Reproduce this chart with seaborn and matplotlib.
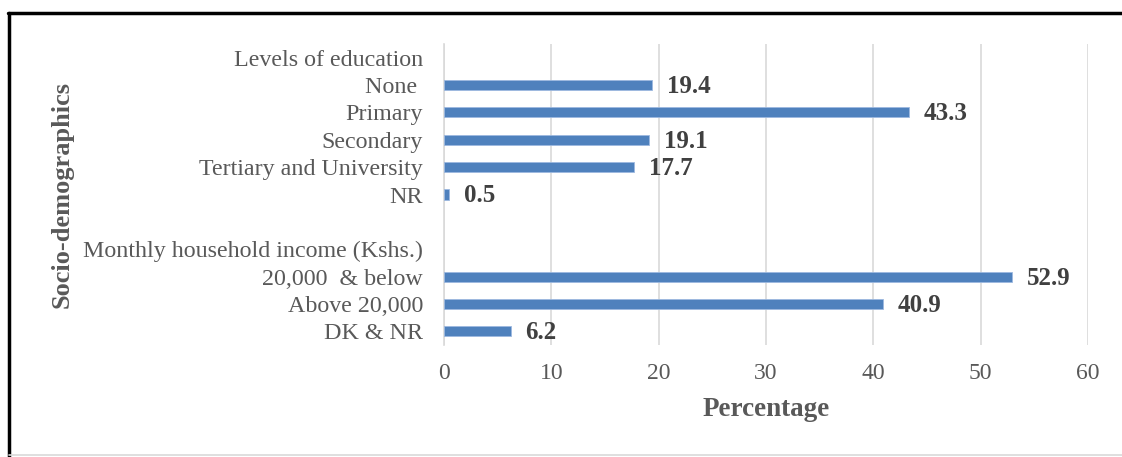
import numpy as np
import pandas as pd
import matplotlib
matplotlib.use("Agg")
import matplotlib.pyplot as plt
from matplotlib.lines import Line2D
import seaborn as sns

# Rows of the chart, top to bottom (header and spacer rows carry no value)
categories = [
    "Levels of education",
    "None ",
    "Primary",
    "Secondary",
    "Tertiary and University",
    "NR",
    " ",
    "Monthly household income (Kshs.)",
    "20,000  & below",
    "Above 20,000",
    "DK & NR",
]
percentages = [np.nan, 19.4, 43.3, 19.1, 17.7, 0.5, np.nan, np.nan, 52.9, 40.9, 6.2]
x_ticks = [0, 10, 20, 30, 40, 50, 60]

sns.set_theme(style="white")
plt.rcParams["font.family"] = ["Liberation Serif", "DejaVu Serif"]

df = pd.DataFrame({"category": categories, "percentage": percentages})

fig = plt.figure(figsize=(11.22, 4.57), dpi=100)
ax = fig.add_axes([0.3957, 0.245, 0.574, 0.6587])

bar_color = "#4F81BD"
sns.barplot(
    data=df, x="percentage", y="category", order=categories, orient="h",
    color=bar_color, width=0.37, saturation=1, edgecolor="#9DB9E0",
    linewidth=0.6, ax=ax, zorder=3,
)

ax.set_xlim(0, 60)
ax.set_ylim(len(categories) - 0.5, -0.5)
ax.set_xticks(x_ticks)
ax.set_xticklabels([str(t) for t in x_ticks])
ax.xaxis.grid(True, color="#D9D9D9", linewidth=1.2, zorder=0)
ax.yaxis.grid(False)
ax.set_axisbelow(True)
for side in ["top", "right", "bottom"]:
    ax.spines[side].set_visible(False)
ax.spines["left"].set_color("#D9D9D9")
ax.spines["left"].set_linewidth(1.2)

ax.tick_params(axis="x", length=0, pad=13, labelsize=17, labelcolor="#595959")
ax.tick_params(axis="y", length=0, pad=15, labelsize=17.3, labelcolor="#595959")

ax.set_xlabel("Percentage", fontsize=19.5, fontweight="bold", color="#595959", labelpad=9)
ax.set_ylabel("")
fig.text(0.055, 0.575, "Socio-demographics", rotation=90, ha="center", va="center",
         fontsize=19, fontweight="bold", color="#595959")

# Value labels at the bar ends
for i, v in enumerate(percentages):
    if np.isnan(v):
        continue
    ax.annotate(f"{v:.1f}", xy=(v, i), xytext=(10.5, -1), textcoords="offset points",
                ha="left", va="center", fontsize=18, fontweight="bold", color="#404040")

# Frame lines around the figure
fig.add_artist(Line2D([8 / 1122, 1.0], [1 - 13 / 457] * 2, transform=fig.transFigure,
                      color="black", linewidth=2.5))
fig.add_artist(Line2D([9 / 1122] * 2, [0.0, 1 - 13 / 457], transform=fig.transFigure,
                      color="black", linewidth=2.5))
fig.add_artist(Line2D([9 / 1122, 1.0], [2 / 457] * 2, transform=fig.transFigure,
                      color="#D9D9D9", linewidth=1.2))

fig.savefig("out.png", dpi=100)
